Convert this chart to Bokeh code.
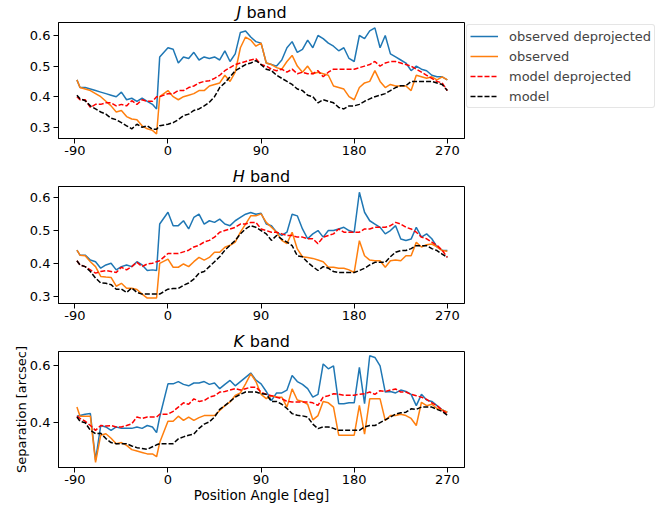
from bokeh.plotting import figure
from bokeh.models import Range1d, FixedTicker, Legend, LegendItem
from bokeh.core.properties import value
from bokeh.layouts import column
from bokeh.embed import file_html
from bokeh.resources import INLINE

FONT = "DejaVu Sans"

# Position angle [deg] (shared x grid)
angle = [-88, -85, -80, -75, -70, -65, -60, -55, -50, -45,
         -40, -35, -30, -25, -20, -15, -11, -8, 0, 5,
         10, 15, 20, 25, 30, 35, 40, 45, 50, 55,
         60, 65, 70, 75, 80, 85, 90, 95, 100, 105,
         110, 115, 120, 125, 130, 135, 140, 145, 150, 155,
         160, 165, 170, 175, 180, 185, 190, 195, 200, 205,
         210, 215, 220, 225, 230, 235, 240, 245, 250, 255,
         260, 265, 270]

# ---------------- J band ----------------
j_obs_deproj = [0.455, 0.43, 0.43, 0.425, 0.42, 0.415, 0.41, 0.405, 0.40, 0.415,
                0.39, 0.395, 0.385, 0.395, 0.385, 0.375, 0.36, 0.53, 0.56, 0.555,
                0.51, 0.53, 0.525, 0.545, 0.52, 0.53, 0.525, 0.53, 0.52, 0.55,
                0.515, 0.54, 0.61, 0.615, 0.595, 0.58, 0.575, 0.51, 0.505, 0.50,
                0.52, 0.56, 0.58, 0.545, 0.555, 0.585, 0.56, 0.60, 0.59, 0.575,
                0.565, 0.55, 0.56, 0.525, 0.515, 0.60, 0.59, 0.615, 0.625, 0.56,
                0.60, 0.54, 0.53, 0.52, 0.51, 0.485, 0.50, 0.49, 0.485, 0.47,
                0.465, 0.465, 0.455]
j_obs = [0.455, 0.43, 0.425, 0.42, 0.41, 0.40, 0.385, 0.37, 0.35, 0.355,
         0.335, 0.327, 0.325, 0.305, 0.295, 0.29, 0.278, 0.40, 0.42, 0.40,
         0.39, 0.40, 0.405, 0.41, 0.42, 0.42, 0.435, 0.44, 0.445, 0.47,
         0.45, 0.48, 0.56, 0.595, 0.585, 0.565, 0.575, 0.51, 0.505, 0.495,
         0.49, 0.515, 0.535, 0.50, 0.48, 0.50, 0.475, 0.48, 0.475, 0.47,
         0.435, 0.43, 0.425, 0.40, 0.39, 0.43, 0.445, 0.45, 0.485, 0.45,
         0.43, 0.44, 0.435, 0.435, 0.435, 0.42, 0.47, 0.465, 0.46, 0.465,
         0.455, 0.465, 0.455]
j_mod_deproj = [0.40, 0.39, 0.39, 0.365, 0.375, 0.375, 0.38, 0.38, 0.37, 0.375,
                0.37, 0.387, 0.375, 0.39, 0.385, 0.385, 0.40, 0.40, 0.41, 0.41,
                0.42, 0.42, 0.43, 0.435, 0.445, 0.45, 0.452, 0.46, 0.47, 0.485,
                0.495, 0.505, 0.51, 0.515, 0.52, 0.524, 0.505, 0.50, 0.49, 0.485,
                0.49, 0.48, 0.49, 0.475, 0.48, 0.475, 0.475, 0.485, 0.465, 0.48,
                0.49, 0.49, 0.49, 0.49, 0.49, 0.495, 0.50, 0.505, 0.515, 0.50,
                0.51, 0.515, 0.515, 0.51, 0.505, 0.50, 0.49, 0.48, 0.47, 0.46,
                0.45, 0.445, 0.42]
j_mod = [0.405, 0.393, 0.387, 0.37, 0.36, 0.35, 0.343, 0.33, 0.325, 0.315,
         0.305, 0.295, 0.31, 0.30, 0.305, 0.294, 0.294, 0.305, 0.31, 0.315,
         0.325, 0.338, 0.343, 0.355, 0.36, 0.37, 0.382, 0.40, 0.43, 0.445,
         0.465, 0.485, 0.495, 0.505, 0.51, 0.518, 0.505, 0.49, 0.485, 0.47,
         0.46, 0.45, 0.44, 0.425, 0.42, 0.405, 0.40, 0.38, 0.39, 0.385,
         0.38, 0.365, 0.36, 0.37, 0.37, 0.375, 0.385, 0.393, 0.40, 0.405,
         0.41, 0.42, 0.43, 0.436, 0.436, 0.45, 0.45, 0.45, 0.45, 0.45,
         0.445, 0.44, 0.42]

# ---------------- H band ----------------
h_obs_deproj = [0.44, 0.425, 0.425, 0.41, 0.405, 0.385, 0.395, 0.40, 0.38, 0.39,
                0.395, 0.39, 0.405, 0.395, 0.378, 0.38, 0.378, 0.52, 0.556, 0.515,
                0.515, 0.53, 0.505, 0.54, 0.55, 0.52, 0.53, 0.525, 0.535, 0.52,
                0.515, 0.53, 0.54, 0.55, 0.555, 0.55, 0.553, 0.52, 0.515, 0.495,
                0.485, 0.495, 0.55, 0.545, 0.505, 0.475, 0.49, 0.50, 0.48, 0.50,
                0.50, 0.505, 0.51, 0.50, 0.495, 0.617, 0.556, 0.53, 0.52, 0.51,
                0.49, 0.50, 0.515, 0.474, 0.47, 0.474, 0.51, 0.48, 0.49, 0.475,
                0.45, 0.44, 0.439]
h_obs = [0.44, 0.425, 0.423, 0.405, 0.39, 0.36, 0.358, 0.357, 0.33, 0.339,
         0.324, 0.324, 0.32, 0.306, 0.294, 0.294, 0.294, 0.40, 0.413, 0.388,
         0.388, 0.398, 0.39, 0.405, 0.418, 0.41, 0.418, 0.434, 0.434, 0.449,
         0.455, 0.465, 0.495, 0.52, 0.545, 0.545, 0.551, 0.525, 0.51, 0.495,
         0.47, 0.46, 0.495, 0.444, 0.42, 0.418, 0.415, 0.41, 0.405, 0.388,
         0.388, 0.385, 0.385, 0.38, 0.372, 0.469, 0.423, 0.41, 0.408, 0.408,
         0.388, 0.408, 0.41, 0.408, 0.423, 0.423, 0.464, 0.45, 0.457, 0.459,
         0.45, 0.439, 0.437]
h_mod_deproj = [0.408, 0.395, 0.39, 0.38, 0.37, 0.375, 0.378, 0.375, 0.372, 0.388,
                0.38, 0.39, 0.403, 0.39, 0.398, 0.40, 0.405, 0.408, 0.43, 0.43,
                0.43, 0.435, 0.44, 0.45, 0.455, 0.465, 0.47, 0.48, 0.495, 0.50,
                0.505, 0.51, 0.52, 0.52, 0.525, 0.525, 0.505, 0.50, 0.495, 0.495,
                0.49, 0.485, 0.485, 0.48, 0.48, 0.475, 0.475, 0.46, 0.48, 0.485,
                0.49, 0.505, 0.495, 0.495, 0.495, 0.495, 0.505, 0.505, 0.51, 0.51,
                0.51, 0.515, 0.525, 0.52, 0.51, 0.505, 0.495, 0.48, 0.475, 0.465,
                0.455, 0.44, 0.418]
h_mod = [0.408, 0.395, 0.39, 0.375, 0.355, 0.34, 0.339, 0.335, 0.321, 0.321,
         0.311, 0.325, 0.311, 0.306, 0.306, 0.306, 0.306, 0.306, 0.321, 0.323,
         0.323, 0.333, 0.34, 0.352, 0.37, 0.375, 0.39, 0.405, 0.42, 0.44,
         0.455, 0.47, 0.49, 0.505, 0.515, 0.51, 0.50, 0.49, 0.47, 0.485,
         0.474, 0.465, 0.454, 0.423, 0.42, 0.403, 0.39, 0.378, 0.39, 0.385,
         0.375, 0.372, 0.372, 0.372, 0.372, 0.378, 0.385, 0.395, 0.403, 0.403,
         0.403, 0.42, 0.434, 0.439, 0.439, 0.445, 0.454, 0.454, 0.454, 0.445,
         0.439, 0.428, 0.418]

# ---------------- K band ----------------
k_obs_deproj = [0.423, 0.425, 0.43, 0.432, 0.268, 0.39, 0.385, 0.373, 0.385, 0.38,
                0.38, 0.38, 0.385, 0.38, 0.39, 0.385, 0.365, 0.42, 0.537, 0.537,
                0.545, 0.535, 0.53, 0.54, 0.54, 0.545, 0.535, 0.54, 0.52, 0.535,
                0.549, 0.53, 0.545, 0.56, 0.575, 0.55, 0.537, 0.51, 0.478, 0.505,
                0.505, 0.515, 0.566, 0.545, 0.535, 0.52, 0.49, 0.50, 0.607, 0.59,
                0.60, 0.467, 0.467, 0.47, 0.47, 0.595, 0.467, 0.636, 0.63, 0.60,
                0.508, 0.51, 0.505, 0.515, 0.51, 0.50, 0.46, 0.50, 0.48, 0.475,
                0.46, 0.445, 0.437]
k_obs = [0.455, 0.423, 0.423, 0.423, 0.26, 0.356, 0.361, 0.345, 0.326, 0.33,
         0.32, 0.305, 0.30, 0.295, 0.29, 0.29, 0.28, 0.33, 0.405, 0.405,
         0.423, 0.408, 0.42, 0.408, 0.418, 0.425, 0.425, 0.425, 0.443, 0.46,
         0.473, 0.496, 0.505, 0.537, 0.572, 0.545, 0.50, 0.485, 0.495, 0.49,
         0.49, 0.455, 0.519, 0.48, 0.475, 0.465, 0.41, 0.425, 0.475, 0.47,
         0.455, 0.356, 0.356, 0.356, 0.356, 0.461, 0.36, 0.484, 0.484, 0.484,
         0.408, 0.425, 0.425, 0.43, 0.425, 0.415, 0.39, 0.472, 0.46, 0.465,
         0.45, 0.445, 0.437]
k_mod_deproj = [0.423, 0.415, 0.405, 0.39, 0.373, 0.39, 0.388, 0.39, 0.385, 0.385,
                0.39, 0.396, 0.42, 0.415, 0.42, 0.42, 0.42, 0.43, 0.43, 0.44,
                0.455, 0.47, 0.465, 0.484, 0.475, 0.478, 0.49, 0.495, 0.508, 0.51,
                0.515, 0.52, 0.515, 0.52, 0.525, 0.525, 0.508, 0.50, 0.495, 0.49,
                0.485, 0.475, 0.473, 0.473, 0.473, 0.473, 0.47, 0.461, 0.49, 0.495,
                0.502, 0.50, 0.497, 0.497, 0.497, 0.50, 0.502, 0.508, 0.50, 0.513,
                0.51, 0.515, 0.519, 0.508, 0.508, 0.50, 0.495, 0.49, 0.482, 0.47,
                0.46, 0.445, 0.43]
k_mod = [0.42, 0.405, 0.40, 0.373, 0.361, 0.363, 0.344, 0.33, 0.326, 0.326,
         0.326, 0.318, 0.312, 0.309, 0.306, 0.315, 0.322, 0.326, 0.326, 0.326,
         0.343, 0.35, 0.356, 0.36, 0.38, 0.395, 0.403, 0.42, 0.447, 0.46,
         0.475, 0.49, 0.50, 0.508, 0.508, 0.508, 0.502, 0.50, 0.475, 0.475,
         0.465, 0.45, 0.432, 0.426, 0.424, 0.42, 0.395, 0.379, 0.385, 0.385,
         0.38, 0.373, 0.373, 0.373, 0.373, 0.373, 0.385, 0.39, 0.39, 0.40,
         0.41, 0.42, 0.43, 0.435, 0.437, 0.449, 0.447, 0.455, 0.455, 0.455,
         0.447, 0.44, 0.426]

x_ticks = [-90, 0, 90, 180, 270]
series_labels = ["observed deprojected", "observed", "model deprojected", "model"]
series_colors = ["#1f77b4", "#ff7f0e", "#ff0000", "#000000"]
series_dash = ["solid", "solid", "5 2", "5 2"]

FRAME_W = 406
X_LO, X_HI = -105.8, 286.6


def make_panel(band, ys, y_lo, y_hi, yticks, top, fh, bottom,
               letter_dx, band_dx, base_dy, legend=False, xlabel=False, ylabel=False):
    p = figure(frame_width=FRAME_W, frame_height=fh,
               x_range=Range1d(X_LO, X_HI), y_range=Range1d(y_lo, y_hi),
               output_backend="svg", toolbar_location=None,
               min_border_left=58, min_border_right=193,
               min_border_top=top, min_border_bottom=bottom,
               background_fill_color="white", border_fill_color="white")
    p.xgrid.visible = False
    p.ygrid.visible = False
    p.outline_line_color = "black"
    p.outline_line_width = 1
    p.outline_line_alpha = 1
    p.xaxis.ticker = FixedTicker(ticks=x_ticks)
    p.xaxis.major_label_overrides = {-90: "-90"}
    p.yaxis.ticker = FixedTicker(ticks=yticks)
    for ax in (p.xaxis[0], p.yaxis[0]):
        ax.major_tick_out = 5
        ax.major_tick_in = 0
        ax.minor_tick_line_color = None
        ax.axis_line_color = "black"
        ax.major_tick_line_color = "black"
        ax.major_label_text_font = FONT
        ax.major_label_text_font_size = "13px"
        ax.major_label_text_color = "black"
    p.xaxis.major_label_standoff = 2
    p.yaxis.major_label_standoff = 3
    if ylabel:
        p.yaxis.axis_label = "Separation [arcsec]"
        p.yaxis.axis_label_text_font = FONT
        p.yaxis.axis_label_text_font_size = "13px"
        p.yaxis.axis_label_text_font_style = "normal"
        p.yaxis.axis_label_text_color = "black"
        p.yaxis.axis_label_standoff = -2
    if xlabel:
        p.xaxis.axis_label = "Position Angle [deg]"
        p.xaxis.axis_label_text_font = FONT
        p.xaxis.axis_label_text_font_size = "13.5px"
        p.xaxis.axis_label_text_font_style = "normal"
        p.xaxis.axis_label_text_color = "black"
        p.xaxis.axis_label_standoff = 0

    renderers = []
    for y, c, d in zip(ys, series_colors, series_dash):
        r = p.line(angle, y, line_color=c, line_width=1.5, line_dash=d)
        renderers.append(r)

    # Panel title: italic band letter followed by "band", drawn above the frame
    y_mid = (y_lo + y_hi) / 2.0
    dy = -(fh / 2.0) - base_dy
    p.text(x=[0], y=[y_mid], text=[band], x_offset=letter_dx, y_offset=dy,
           text_font=value(FONT), text_font_size="16px", text_font_style="italic",
           text_baseline="alphabetic", text_align="left", text_color="black",
           level="overlay")
    p.text(x=[0], y=[y_mid], text=["band"], x_offset=band_dx, y_offset=dy,
           text_font=value(FONT), text_font_size="16px", text_font_style="normal",
           text_baseline="alphabetic", text_align="left", text_color="black",
           level="overlay")

    if legend:
        items = [LegendItem(label=l, renderers=[r]) for l, r in zip(series_labels, renderers)]
        lg = Legend(items=items, location="top_left",
                    label_text_font=FONT, label_text_font_size="13px",
                    glyph_width=28, glyph_height=16, label_height=16,
                    label_standoff=11, spacing=4, padding=3, margin=2,
                    border_line_color="#cccccc", border_line_width=1,
                    background_fill_color="white", background_fill_alpha=0.8,
                    border_radius=3)
        p.add_layout(lg, "right")
    return p


pj = make_panel("J", [j_obs_deproj, j_obs, j_mod_deproj, j_mod], 0.2634, 0.6425,
                [0.3, 0.4, 0.5, 0.6], 22, 116, 27, 68.5, 78.5, 10.0, legend=True)
ph = make_panel("H", [h_obs_deproj, h_obs, h_mod_deproj, h_mod], 0.2773, 0.6346,
                [0.3, 0.4, 0.5, 0.6], 21, 117, 29, 64.8, 82.0, 10.5)
pk = make_panel("K", [k_obs_deproj, k_obs, k_mod_deproj, k_mod], 0.242, 0.651,
                [0.4, 0.6], 19, 116, 39, 65.6, 81.8, 10.5, xlabel=True, ylabel=True)

layout = column(pj, ph, pk)
open("out.html", "w").write(file_html(layout, INLINE))
